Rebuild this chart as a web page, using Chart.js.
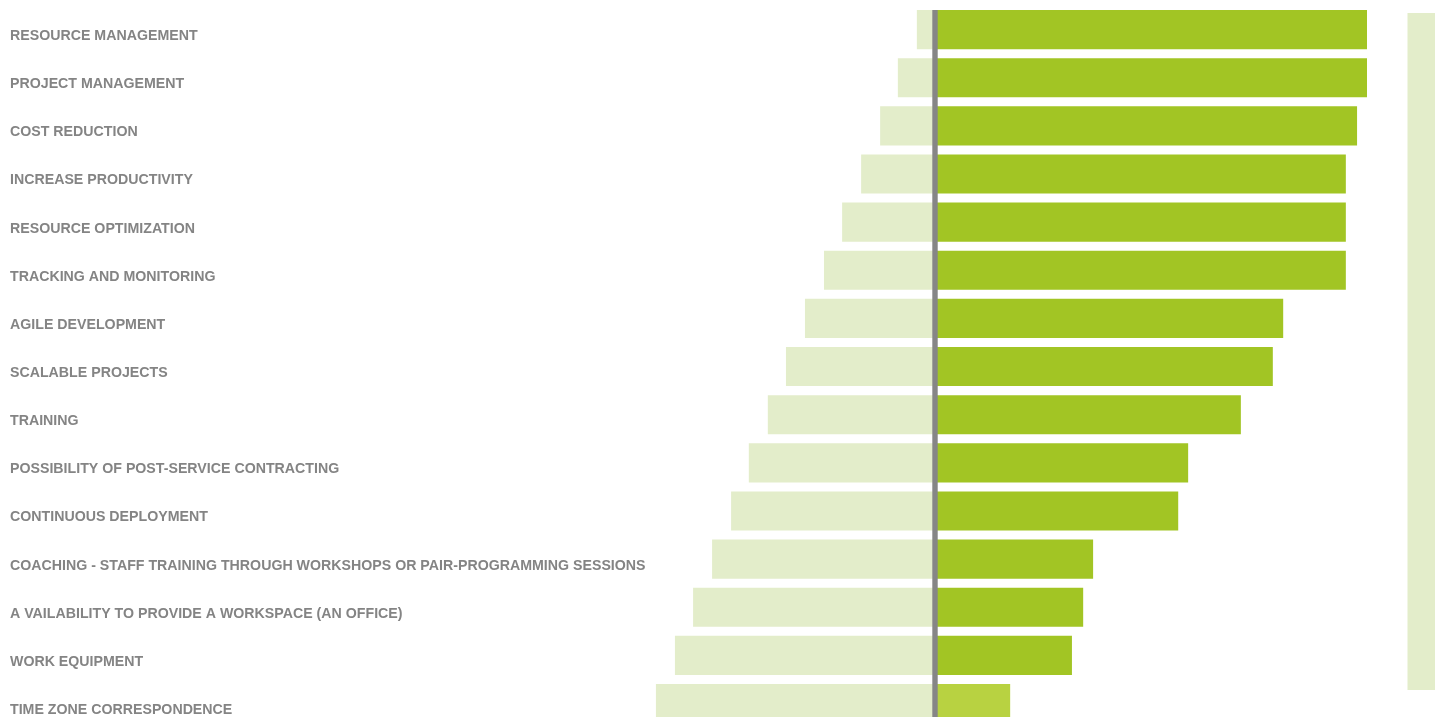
<!DOCTYPE html>
<html>
<head>
<meta charset="utf-8">
<script src="https://cdn.jsdelivr.net/npm/chart.js@4/dist/chart.umd.min.js"></script>
<style>
  html, body { margin: 0; padding: 0; background: #ffffff; overflow: hidden; }
  #wrap { position: absolute; left: 0; top: 0; width: 1435px; height: 730px; }
</style>
</head>
<body>
<div id="wrap"><canvas id="c"></canvas></div>
<script>
const categories = [
  "RESOURCE MANAGEMENT",
  "PROJECT MANAGEMENT",
  "COST REDUCTION",
  "INCREASE PRODUCTIVITY",
  "RESOURCE OPTIMIZATION",
  "TRACKING AND MONITORING",
  "AGILE DEVELOPMENT",
  "SCALABLE PROJECTS",
  "TRAINING",
  "POSSIBILITY OF POST-SERVICE CONTRACTING",
  "CONTINUOUS DEPLOYMENT",
  "COACHING - STAFF TRAINING THROUGH WORKSHOPS OR PAIR-PROGRAMMING SESSIONS",
  "A VAILABILITY TO PROVIDE A WORKSPACE (AN OFFICE)",
  "WORK EQUIPMENT",
  "TIME ZONE CORRESPONDENCE"
];
const positiveValues = [100, 100, 97.7, 95.1, 95.1, 95.1, 80.6, 78.2, 70.8, 58.6, 56.3, 36.6, 34.3, 31.7, 17.4];
const negativeValues = [-4.2, -8.6, -12.7, -17.1, -21.5, -25.7, -30.1, -34.5, -38.7, -43.1, -47.2, -51.6, -56.0, -60.2, -64.6];

const PX_PER_UNIT = 4.32;
const ZERO_X = 935;
const AREA_LEFT = 650;
const AREA_RIGHT = 1435;

const DARK = '#a2c524';
const LIGHT_LAST = '#b8d241';
const PALE = '#e3edca';

const overlay = {
  id: 'overlay',
  beforeDatasetsDraw(chart) {
    const ctx = chart.ctx;
    const a = chart.chartArea;
    ctx.save();
    ctx.fillStyle = PALE;
    ctx.fillRect(a.right - 27.5, 13, 27.5, 677);
    ctx.restore();
  },
  afterDatasetsDraw(chart) {
    const ctx = chart.ctx;
    const x = chart.scales.x.getPixelForValue(0);
    const first = chart.getDatasetMeta(1).data[0];
    const top = first.y - first.height / 2;
    ctx.save();
    ctx.fillStyle = '#868686';
    ctx.fillRect(x - 2.7, top, 5.4, chart.height - top);
    ctx.restore();
  }
};

new Chart(document.getElementById('c'), {
  type: 'bar',
  data: {
    labels: categories,
    datasets: [
      {
        data: negativeValues,
        backgroundColor: PALE,
        barPercentage: 0.8125,
        categoryPercentage: 1.0
      },
      {
        data: positiveValues,
        backgroundColor: (ctx) => ctx.dataIndex === categories.length - 1 ? LIGHT_LAST : DARK,
        barPercentage: 0.8125,
        categoryPercentage: 1.0
      }
    ]
  },
  options: {
    indexAxis: 'y',
    responsive: true,
    maintainAspectRatio: false,
    animation: false,
    layout: { padding: { left: 10, right: 0, top: 5.5, bottom: 2.4 } },
    plugins: { legend: { display: false }, tooltip: { enabled: false } },
    scales: {
      x: {
        display: false,
        stacked: true,
        min: -(ZERO_X - AREA_LEFT) / PX_PER_UNIT,
        max: (AREA_RIGHT - ZERO_X) / PX_PER_UNIT
      },
      y: {
        stacked: true,
        grid: { display: false },
        border: { display: false },
        afterFit(scale) {
          scale.width = AREA_LEFT - 10;
          scale.paddingTop = 0;
          scale.paddingBottom = 0;
        },
        ticks: {
          crossAlign: 'far',
          labelOffset: 6.5,
          color: '#848484',
          padding: 0,
          font: { family: 'Liberation Sans', size: 14.2, weight: 'bold' }
        }
      }
    }
  },
  plugins: [overlay]
});
</script>
</body>
</html>
